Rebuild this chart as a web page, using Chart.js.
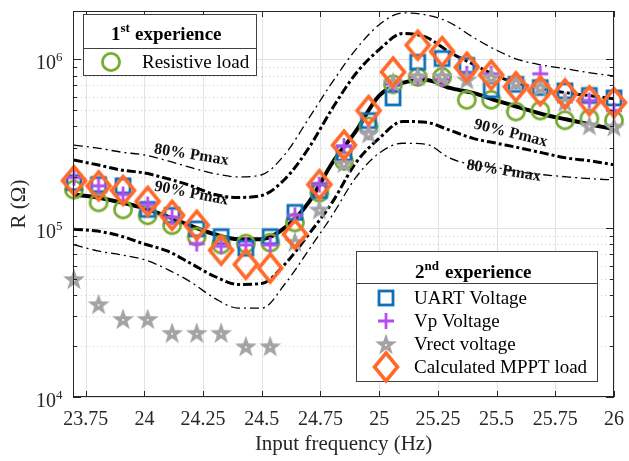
<!DOCTYPE html>
<html>
<head>
<meta charset="utf-8">
<script src="https://cdn.jsdelivr.net/npm/chart.js@4.4.1/dist/chart.umd.min.js"></script>
<style>
  html, body { margin: 0; padding: 0; background: #fff; }
</style>
</head>
<body>
<canvas id="c" width="629" height="461"></canvas>
<script>
// measured frequencies (Hz)
const freq = [23.700, 23.805, 23.909, 24.014, 24.118, 24.223, 24.327, 24.432, 24.536, 24.641, 24.745, 24.850,
  24.955, 25.059, 25.164, 25.268, 25.373, 25.477, 25.582, 25.686, 25.791, 25.895, 26.000];

// 1st experience
const resistiveLoad = [1.69e5, 1.42e5, 1.29e5, 1.19e5, 1.04e5, 8.9e4, 8.0e4, 8.1e4, 8.2e4, 1.08e5, 1.62e5, 2.5e5,
  4.0e5, 7.1e5, 7.85e5, 7.85e5, 5.75e5, 5.75e5, 4.9e5, 4.97e5, 4.35e5, 4.46e5, 4.35e5];

// 2nd experience
const uartVoltage = [1.86e5, 1.81e5, 1.78e5, 1.29e5, 1.19e5, 9.9e4, 8.9e4, 7.6e4, 8.9e4, 1.24e5, 1.67e5, 2.78e5,
  4.33e5, 5.9e5, 9.6e5, 1.01e6, 9.2e5, 6.6e5, 7.1e5, 6.8e5, 6.5e5, 6.1e5, 5.9e5];
const vpVoltage = [1.99e5, 1.78e5, 1.58e5, 1.38e5, 1.16e5, 8.1e4, 7.8e4, 7.95e4, 7.95e4, 1.19e5, 1.81e5, 3.06e5,
  3.7e5, 7.1e5, 7.85e5, 7.6e5, 8.2e5, 8.2e5, 7.4e5, 8.2e5, 5.6e5, 5.7e5, 4.97e5];
const vrectVoltage = [5.0e4, 3.55e4, 2.9e4, 2.9e4, 2.4e4, 2.4e4, 2.4e4, 2.0e4, 2.0e4, 8.3e4, 1.29e5, 2.43e5,
  3.64e5, 7.3e5, 7.95e5, 7.95e5, 7.6e5, 7.85e5, 7.3e5, 6.86e5, 5.6e5, 4.06e5, 4.0e5];
const mpptLoad = [1.91e5, 1.78e5, 1.67e5, 1.44e5, 1.19e5, 1.04e5, 7.4e4, 6.1e4, 5.8e4, 9.2e4, 1.81e5, 3.1e5,
  4.97e5, 8.4e5, 1.21e6, 1.11e6, 8.97e5, 8.06e5, 6.86e5, 6.5e5, 6.24e5, 5.68e5, 5.53e5];

// theoretical curves
const curveFreq = [23.7, 23.8, 23.9, 24.0, 24.1, 24.2, 24.3, 24.4, 24.5, 24.6, 24.7, 24.8,
  24.9, 25.0, 25.1, 25.2, 25.3, 25.4, 25.5, 25.6, 25.7, 25.8, 25.9, 26.0];
const optimum = [1.58e5, 1.52e5, 1.42e5, 1.31e5, 1.17e5, 1.03e5, 9.2e4, 8.6e4, 8.6e4, 1.01e5, 1.42e5, 2.43e5,
  3.74e5, 6.08e5, 7.24e5, 7.54e5, 6.76e5, 6.32e5, 5.68e5, 5.17e5, 4.71e5, 4.4e5, 4.11e5, 3.85e5];
const upper90 = [2.53e5, 2.37e5, 2.21e5, 2.12e5, 1.96e5, 1.78e5, 1.58e5, 1.52e5, 1.56e5, 1.96e5, 2.98e5, 5.1e5,
  8.2e5, 1.14e6, 1.42e6, 1.35e6, 1.10e6, 9.35e5, 7.96e5, 7.15e5, 6.68e5, 6.32e5, 6.08e5, 5.83e5];
const lower90 = [9.86e4, 9.6e4, 8.97e4, 8.05e4, 7.3e4, 6.15e4, 5.17e4, 4.64e4, 4.7e4, 6.15e4, 9.2e4, 1.42e5,
  2.43e5, 3.4e5, 4.28e5, 4.23e5, 3.8e5, 3.4e5, 3.18e5, 2.98e5, 2.78e5, 2.6e5, 2.5e5, 2.37e5];
const upper80 = [3.1e5, 2.98e5, 2.82e5, 2.71e5, 2.5e5, 2.28e5, 2.1e5, 2.01e5, 2.07e5, 2.75e5, 4.46e5, 7.3e5,
  1.14e6, 1.6e6, 1.88e6, 1.83e6, 1.65e6, 1.35e6, 1.13e6, 9.87e5, 9.2e5, 8.75e5, 8.3e5, 7.96e5];
const lower80 = [7.96e4, 7.33e4, 6.95e4, 6.5e4, 5.68e4, 4.77e4, 3.84e4, 3.36e4, 3.36e4, 4.7e4, 7.43e4, 1.19e5,
  1.99e5, 2.78e5, 3.18e5, 3.14e5, 2.6e5, 2.37e5, 2.28e5, 2.15e5, 2.07e5, 2.01e5, 1.96e5, 1.93e5];

// axes
const xTicks = [23.75, 24, 24.25, 24.5, 24.75, 25, 25.25, 25.5, 25.75, 26];
const xTickLabels = ['23.75', '24', '24.25', '24.5', '24.75', '25', '25.25', '25.5', '25.75', '26'];
const yDecades = [4, 5, 6];

const FONT = "'Liberation Serif', 'Times New Roman', serif";
const INK = '#262626';
const GREEN = '#77AC30', BLUE = '#0F6FB8', PURPLE = '#B44CF2', GRAY = '#A3A3A3', ORANGE = '#FF6A2B';

function marker(kind, color) {
  const s = 40, m = s / 2;
  const c = document.createElement('canvas');
  c.width = s; c.height = s;
  const g = c.getContext('2d');
  g.strokeStyle = color; g.fillStyle = color;
  if (kind === 'circle') {
    g.lineWidth = 2.8;
    g.beginPath(); g.arc(m, m, 8.6, 0, Math.PI * 2); g.stroke();
  } else if (kind === 'square') {
    g.lineWidth = 2.8;
    g.strokeRect(m - 7, m - 7, 14, 14);
  } else if (kind === 'plus') {
    g.lineWidth = 2.8;
    g.beginPath();
    g.moveTo(m - 8, m); g.lineTo(m + 8, m);
    g.moveTo(m, m - 8); g.lineTo(m, m + 8);
    g.stroke();
  } else if (kind === 'star') {
    g.beginPath();
    for (let i = 0; i < 10; i++) {
      const r = i % 2 ? 4.6 : 11.5;
      const a = -Math.PI / 2 + i * Math.PI / 5;
      g.lineTo(m + r * Math.cos(a), m + 1 + r * Math.sin(a));
    }
    g.closePath(); g.fill();
    g.fillStyle = '#fff';
    g.beginPath(); g.arc(m, m + 1, 1, 0, Math.PI * 2); g.fill();
  } else if (kind === 'diamond') {
    g.lineWidth = 3.6;
    g.lineJoin = 'miter';
    g.beginPath();
    g.moveTo(m, m - 14); g.lineTo(m + 11.5, m); g.lineTo(m, m + 14); g.lineTo(m - 11.5, m);
    g.closePath(); g.stroke();
  }
  return c;
}

const mk = {
  circle: marker('circle', GREEN),
  square: marker('square', BLUE),
  plus: marker('plus', PURPLE),
  star: marker('star', GRAY),
  diamond: marker('diamond', ORANGE)
};

const pts = (xs, ys) => xs.map((x, i) => ({x: x, y: ys[i]}));

function pointSet(label, ys, style, order) {
  return {label, data: pts(freq, ys), pointStyle: style, pointRadius: 10, pointHoverRadius: 10,
    showLine: false, clip: false, order};
}
function curveSet(label, ys, width, dash, order) {
  return {label, data: pts(curveFreq, ys), showLine: true, borderColor: '#000', borderWidth: width,
    borderDash: dash, pointRadius: 0, cubicInterpolationMode: 'monotone', order};
}

// grid (below data)
const gridPlugin = {
  id: 'grid',
  beforeDatasetsDraw(chart) {
    const {ctx, chartArea: a, scales: {x, y}} = chart;
    ctx.save();
    ctx.lineWidth = 1;
    ctx.strokeStyle = '#e2e2e2';
    xTicks.forEach(v => {
      const px = Math.round(x.getPixelForValue(v)) + 0.5;
      ctx.beginPath(); ctx.moveTo(px, a.top); ctx.lineTo(px, a.bottom); ctx.stroke();
    });
    yDecades.forEach(d => {
      const py = Math.round(y.getPixelForValue(Math.pow(10, d))) + 0.5;
      ctx.beginPath(); ctx.moveTo(a.left, py); ctx.lineTo(a.right, py); ctx.stroke();
    });
    ctx.strokeStyle = '#d0d0d0';
    ctx.setLineDash([1, 3]);
    yDecades.forEach(d => {
      for (let k = 2; k <= 9; k++) {
        const v = k * Math.pow(10, d);
        if (v > y.max) break;
        const py = Math.round(y.getPixelForValue(v)) + 0.5;
        ctx.beginPath(); ctx.moveTo(a.left, py); ctx.lineTo(a.right, py); ctx.stroke();
      }
    });
    ctx.restore();
  }
};

function supText(ctx, x, y, base, sup, size, bold) {
  const w = bold ? 'bold ' : '';
  ctx.font = w + size + 'px ' + FONT;
  ctx.fillText(base, x, y);
  const bw = ctx.measureText(base).width;
  ctx.font = w + Math.round(size * 0.66) + 'px ' + FONT;
  ctx.fillText(sup, x + bw, y - size * 0.4);
  return bw + ctx.measureText(sup).width;
}

// axes box, ticks, labels, legends (above data)
const framePlugin = {
  id: 'frame',
  afterDatasetsDraw(chart) {
    const {ctx, chartArea: a, scales: {x, y}} = chart;
    ctx.save();

    // curve labels
    ctx.fillStyle = '#111';
    ctx.font = 'bold 16px ' + FONT;
    ctx.textAlign = 'center';
    ctx.textBaseline = 'middle';
    [['80% Pmax', 24.2, 2.71e5, 9], ['90% Pmax', 24.2, 1.6e5, 11],
     ['90% Pmax', 25.56, 3.64e5, 14], ['80% Pmax', 25.53, 2.18e5, 9]].forEach(([t, fx, fy, ang]) => {
      ctx.save();
      ctx.translate(x.getPixelForValue(fx), y.getPixelForValue(fy));
      ctx.rotate(ang * Math.PI / 180);
      ctx.fillText(t, 0, 0);
      ctx.restore();
    });
    ctx.textBaseline = 'alphabetic';

    // box
    ctx.strokeStyle = INK;
    ctx.lineWidth = 1;
    ctx.strokeRect(a.left + 0.5, a.top + 0.5, a.right - a.left - 1, a.bottom - a.top - 1);

    // ticks
    ctx.beginPath();
    xTicks.forEach(v => {
      const px = Math.round(x.getPixelForValue(v)) + 0.5;
      ctx.moveTo(px, a.bottom); ctx.lineTo(px, a.bottom - 6);
      ctx.moveTo(px, a.top); ctx.lineTo(px, a.top + 6);
    });
    yDecades.forEach(d => {
      for (let k = 1; k <= 9; k++) {
        const v = k * Math.pow(10, d);
        if (v > y.max) break;
        const len = k === 1 ? 8 : 4;
        const py = Math.round(y.getPixelForValue(v)) + 0.5;
        ctx.moveTo(a.left, py); ctx.lineTo(a.left + len, py);
        ctx.moveTo(a.right, py); ctx.lineTo(a.right - len, py);
      }
    });
    ctx.stroke();

    // tick labels
    ctx.fillStyle = INK;
    ctx.font = '20px ' + FONT;
    ctx.textAlign = 'center';
    xTicks.forEach((v, i) => ctx.fillText(xTickLabels[i], x.getPixelForValue(v), a.bottom + 28));
    ctx.textAlign = 'left';
    yDecades.forEach(d => {
      const py = y.getPixelForValue(Math.pow(10, d));
      supText(ctx, 36, py + 10, '10', String(d), 20, false);
    });

    // axis titles
    ctx.font = '21px ' + FONT;
    ctx.textAlign = 'center';
    ctx.fillText('Input frequency (Hz)', (a.left + a.right) / 2, 450);
    ctx.save();
    ctx.translate(25, (a.top + a.bottom) / 2);
    ctx.rotate(-Math.PI / 2);
    ctx.fillText('R (\u03A9)', 0, 0);
    ctx.restore();

    // legend 1
    ctx.fillStyle = '#fff';
    ctx.fillRect(83, 14, 173, 61);
    ctx.strokeStyle = '#404040';
    ctx.strokeRect(83.5, 14.5, 173, 61);
    ctx.beginPath(); ctx.moveTo(83.5, 48.5); ctx.lineTo(256.5, 48.5); ctx.stroke();
    ctx.fillStyle = '#000';
    ctx.textAlign = 'left';
    supText(ctx, 111, 40, '1', 'st', 19, true);
    ctx.font = 'bold 19px ' + FONT;
    ctx.fillText('experience', 135, 40);
    ctx.font = '19px ' + FONT;
    ctx.drawImage(mk.circle, 111 - 20, 62 - 20);
    ctx.fillText('Resistive load', 142, 68);

    // legend 2
    ctx.fillStyle = '#fff';
    ctx.fillRect(356, 251, 241, 130);
    ctx.strokeRect(356.5, 251.5, 241, 130);
    ctx.beginPath(); ctx.moveTo(356.5, 283.5); ctx.lineTo(597.5, 283.5); ctx.stroke();
    ctx.fillStyle = '#000';
    supText(ctx, 415, 278, '2', 'nd', 19, true);
    ctx.font = 'bold 19px ' + FONT;
    ctx.fillText('experience', 445, 278);
    ctx.font = '19px ' + FONT;
    [[mk.square, 'UART Voltage'], [mk.plus, 'Vp Voltage'], [mk.star, 'Vrect voltage'],
     [mk.diamond, 'Calculated MPPT load']].forEach(([img, t], i) => {
      const cy = 298 + i * 23;
      ctx.drawImage(img, 386 - 20, cy - 20);
      ctx.fillText(t, 414, cy + 6);
    });

    ctx.restore();
  }
};

new Chart(document.getElementById('c'), {
  type: 'scatter',
  data: {
    datasets: [
      pointSet('Calculated MPPT load', mpptLoad, mk.diamond, 0),
      pointSet('Vrect voltage', vrectVoltage, mk.star, 1),
      pointSet('Vp Voltage', vpVoltage, mk.plus, 2),
      pointSet('UART Voltage', uartVoltage, mk.square, 3),
      pointSet('Resistive load', resistiveLoad, mk.circle, 4),
      curveSet('MPPT', optimum, 4, [], 5),
      curveSet('90% Pmax up', upper90, 3, [9, 3, 3, 3], 6),
      curveSet('90% Pmax low', lower90, 3, [9, 3, 3, 3], 7),
      curveSet('80% Pmax up', upper80, 1.3, [9, 4, 2, 4], 8),
      curveSet('80% Pmax low', lower80, 1.3, [9, 4, 2, 4], 9)
    ]
  },
  options: {
    responsive: false,
    animation: false,
    events: [],
    layout: {padding: {left: 73, right: 15, top: 6, bottom: 64}},
    scales: {
      x: {type: 'linear', min: 23.696, max: 26, display: false},
      y: {type: 'logarithmic', min: 1e4, max: 1.93e6, display: false}
    },
    plugins: {legend: {display: false}, tooltip: {enabled: false}}
  },
  plugins: [gridPlugin, framePlugin]
});
</script>
</body>
</html>
